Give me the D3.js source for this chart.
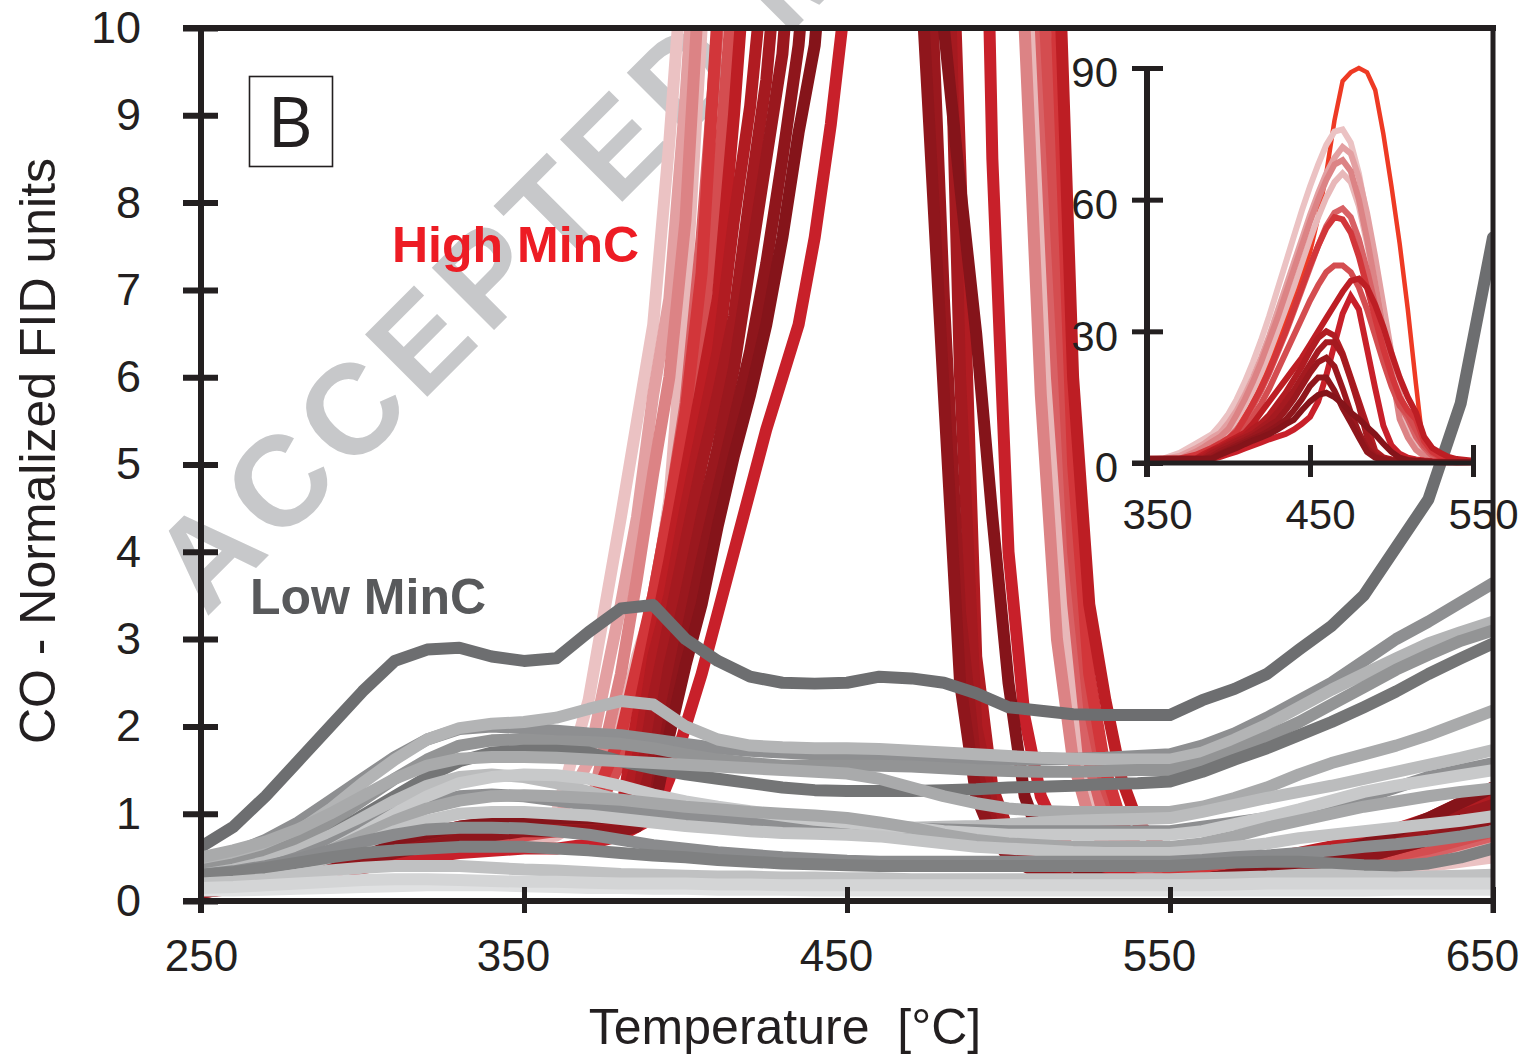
<!DOCTYPE html>
<html>
<head>
<meta charset="utf-8">
<script src="https://cdnjs.cloudflare.com/ajax/libs/d3/7.8.5/d3.min.js"></script>
<style>
  html, body { margin: 0; padding: 0; background: #fff; }
</style>
</head>
<body>
<div id="chart"></div>
<script>
// ---------------- data ----------------
// temperatures (°C) shared by the High MinC (red) traces
var redTemps = [250,270,290,310,330,350,360,370,380,385,390,395,400,405,410,415,420,425,430,435,440,445,450,455,460,465,470,475,480,485,490,495,500,505,510,515,520,525,530,535,540,550,570,590,610,630,650];

var redColors = ['#ebc2c3','#e3a0a2','#e8b8b9','#dc8385','#d86165','#d44d50','#d2363a','#c8202a','#bd1e24','#b11c22','#a51a20','#9a181e','#8f161c','#85141a'];

var redValues = [
  [0.1,0.2,0.35,0.5,0.65,0.75,1.0,2.3,4.4,5.5,6.6,8.7,11.2,14.5,18.5,23,28,33.5,39.5,45.5,51.5,57.5,63,68,72.5,75.5,76,73,66,56,45,33,22,14,7.9,3.9,2.0,1.1,0.65,0.4,0.3,0.2,0.2,0.25,0.3,0.4,0.5],
  [0.12,0.22,0.4,0.55,0.7,0.8,0.9,1.6,3.4,4.4,5.8,6.9,9.2,12,15.5,19.5,24,29,34.5,40,45.5,51,56.5,61.5,66,69.5,72,70.5,65,57,47,36,25,16,10,5.2,2.6,1.4,0.8,0.5,0.35,0.25,0.25,0.3,0.4,0.5,0.65],
  [0.1,0.18,0.3,0.45,0.6,0.7,0.75,0.95,2.0,2.8,3.4,4.6,6.9,10,13,16.5,20.5,25,30,35,40,45.5,51,56,60.5,64,66,64,58.5,50,41,31,22,14.5,8.5,4.6,2.3,1.3,0.75,0.45,0.3,0.2,0.2,0.25,0.35,0.45,0.6],
  [0.15,0.28,0.45,0.6,0.75,0.85,0.9,0.95,2.6,3.7,4.9,6.0,7.8,11,14.5,18.5,23,28,33,38.5,44,49.5,55,60,64.5,68,69,66.5,60,51,41,30.5,21,10,5.8,3.0,1.6,0.95,0.6,0.4,0.3,0.25,0.3,0.35,0.45,0.6,0.8],
  [0.12,0.25,0.4,0.55,0.7,0.8,0.85,0.9,1.7,2.6,3.5,4.5,5.7,7.6,10,13,16.5,20.5,25,29.5,34.5,39.5,44.5,49.5,54,57,58,56,51,44,36,28,20,13.5,10,6.0,3.4,1.6,0.9,0.55,0.35,0.25,0.25,0.3,0.4,0.55,0.75],
  [0.1,0.2,0.35,0.5,0.65,0.75,0.8,0.85,1.6,2.0,3.0,3.9,4.9,6.4,8.2,10.6,13.5,17,21,25,29,33,37,40.5,43.5,45,45,43.5,40,35,29,23,17.5,13,11,7.5,4.0,2.2,1.3,0.8,0.5,0.3,0.3,0.35,0.45,0.6,0.8],
  [0.15,0.3,0.5,0.65,0.8,0.9,0.95,1.0,1.9,2.7,3.5,4.5,5.6,7.2,10.2,13.5,17,21,25.5,30,35,40,45,49.5,53.5,56,55.5,52.5,47,40,33,26,20,15,12,10,5.0,2.6,1.5,0.9,0.6,0.35,0.4,0.5,0.65,0.85,1.1],
  [0.1,0.18,0.3,0.45,0.55,0.6,0.6,0.65,0.75,0.85,0.95,1.4,2.0,2.6,3.3,4.0,4.7,5.4,6.0,6.6,7.6,8.9,10.5,14,20,27,34,38,35,26,17,8.5,4.0,2.1,1.2,0.8,0.55,0.4,0.35,0.3,0.25,0.2,0.25,0.35,0.5,0.7,1.0],
  [0.12,0.22,0.4,0.6,0.8,0.9,0.9,0.9,1.0,2.1,3.0,3.9,4.9,5.9,6.9,9.0,11.5,14,16.5,19,21.5,24,27,30,33,36,39,41.5,42,40,36,31,25,19.5,15,11.5,6.0,3.4,2.3,1.4,0.9,0.5,0.45,0.55,0.7,0.95,1.3],
  [0.15,0.3,0.5,0.7,0.85,0.95,0.95,0.95,0.95,1.6,2.8,3.5,4.5,5.4,6.3,7.8,9.1,11,13.5,16,19,22,25.5,28.5,30,29,25,19.5,14,8.5,2.8,1.3,0.8,0.55,0.4,0.3,0.25,0.2,0.2,0.2,0.2,0.2,0.3,0.45,0.65,0.9,1.2],
  [0.1,0.2,0.4,0.6,0.75,0.85,0.85,0.85,0.9,1.1,2.3,3.2,4.1,5.0,5.8,6.7,8.1,9.4,11.5,14,16.5,19.5,22.5,25.5,27.5,27.5,24.5,19,13,6.0,2.0,1.1,0.7,0.5,0.35,0.3,0.25,0.2,0.2,0.18,0.18,0.18,0.25,0.4,0.55,0.75,1.0],
  [0.12,0.25,0.45,0.65,0.8,0.9,0.9,0.9,0.9,0.95,1.6,2.7,3.5,4.4,5.2,6.1,7.3,8.5,9.7,12,14.5,17.5,20.5,23,24,22,17,11.5,6.9,3.3,1.5,0.9,0.6,0.45,0.35,0.3,0.25,0.2,0.2,0.2,0.2,0.2,0.3,0.45,0.6,0.85,1.1],
  [0.1,0.2,0.35,0.55,0.7,0.8,0.8,0.8,0.8,0.85,1.1,2.1,3.0,3.9,4.7,5.5,6.3,7.3,8.5,9.8,12,14.5,17.5,19.5,19.5,16.5,12.5,9.2,5.8,2.5,1.2,0.75,0.5,0.4,0.3,0.25,0.2,0.2,0.18,0.18,0.18,0.2,0.25,0.35,0.5,0.7,0.95],
  [0.15,0.3,0.5,0.7,0.85,0.95,0.95,0.95,0.95,0.95,1.0,1.9,2.7,3.4,4.3,5.1,5.8,6.6,7.6,8.8,9.8,12,14,15.5,16,15,13.5,11.5,10,8.2,6.5,4.4,2.5,1.2,0.7,0.5,0.4,0.3,0.25,0.2,0.2,0.2,0.3,0.45,0.65,0.95,1.3]
];

// the tallest trace, visible only in the inset
var orangeColor = '#ee3a24';
var orangeValues = [0,0,0,0,0,0.05,0.1,0.3,1,1.5,2.5,4,6,8.5,11.5,15,19,23,28,33,38,43,48,56,66,78,87,89,90,89,85,75,63,50,35,18,2,0.5,0.2,0.1,0,0,0,0,0,0,0];

// temperatures (°C) shared by the Low MinC (grey) traces
var greyTemps = [250,260,270,280,290,300,310,320,330,340,350,360,370,380,390,400,410,420,430,440,450,460,470,480,490,500,510,520,530,540,550,560,570,580,590,600,610,620,630,640,650];

var greyColors = ['#6d6e70','#8e8f91','#b3b4b5','#939495','#747576','#a9aaab','#bbbcbd','#8e8f91','#c8c9ca','#a6a7a8','#c3c4c5','#8a8b8d','#7f8081','#c0c1c2','#e0e1e2','#d4d5d6'];

var greyValues = [
  [0.62,0.85,1.2,1.6,2.0,2.4,2.75,2.88,2.9,2.8,2.75,2.78,3.08,3.35,3.39,3.0,2.75,2.57,2.5,2.49,2.5,2.57,2.55,2.5,2.38,2.22,2.18,2.14,2.13,2.13,2.13,2.3,2.43,2.6,2.88,3.15,3.5,4.05,4.6,5.7,7.6],
  [0.45,0.55,0.7,0.9,1.15,1.4,1.65,1.85,1.97,2.0,1.98,1.95,1.92,1.9,1.85,1.8,1.75,1.72,1.7,1.68,1.66,1.65,1.64,1.63,1.62,1.62,1.62,1.63,1.64,1.66,1.68,1.78,1.92,2.1,2.3,2.5,2.75,3.0,3.2,3.42,3.64],
  [0.4,0.5,0.62,0.8,1.05,1.35,1.62,1.85,1.98,2.03,2.05,2.1,2.2,2.29,2.25,2.0,1.85,1.78,1.76,1.75,1.75,1.74,1.72,1.7,1.68,1.66,1.64,1.63,1.62,1.62,1.62,1.7,1.85,2.02,2.22,2.42,2.6,2.78,2.95,3.08,3.2],
  [0.35,0.42,0.52,0.68,0.9,1.15,1.4,1.62,1.78,1.84,1.85,1.83,1.82,1.8,1.75,1.68,1.62,1.58,1.55,1.55,1.55,1.55,1.54,1.52,1.5,1.49,1.48,1.48,1.49,1.5,1.5,1.58,1.72,1.88,2.05,2.25,2.45,2.65,2.82,2.98,3.1],
  [0.3,0.35,0.42,0.55,0.75,0.98,1.2,1.42,1.6,1.7,1.72,1.72,1.7,1.6,1.52,1.45,1.4,1.35,1.3,1.27,1.26,1.26,1.26,1.27,1.28,1.3,1.31,1.32,1.34,1.35,1.37,1.48,1.62,1.75,1.9,2.05,2.22,2.4,2.6,2.78,2.95],
  [0.5,0.58,0.68,0.82,1.0,1.2,1.4,1.55,1.63,1.65,1.65,1.64,1.62,1.6,1.58,1.56,1.54,1.52,1.5,1.48,1.46,1.4,1.3,1.2,1.12,1.06,1.03,1.02,1.02,1.02,1.02,1.08,1.18,1.3,1.45,1.58,1.68,1.78,1.9,2.04,2.18],
  [0.3,0.36,0.45,0.58,0.75,0.95,1.15,1.32,1.42,1.45,1.42,1.35,1.25,1.15,1.08,1.02,0.98,0.94,0.9,0.87,0.85,0.84,0.84,0.85,0.86,0.88,0.9,0.92,0.93,0.94,0.95,1.02,1.1,1.18,1.25,1.32,1.4,1.48,1.56,1.64,1.73],
  [0.25,0.3,0.38,0.5,0.65,0.82,1.0,1.12,1.2,1.22,1.2,1.15,1.1,1.05,1.0,0.96,0.92,0.9,0.88,0.86,0.85,0.84,0.83,0.82,0.81,0.8,0.8,0.8,0.8,0.8,0.8,0.85,0.9,0.95,1.0,1.08,1.18,1.3,1.42,1.5,1.58],
  [0.2,0.25,0.32,0.42,0.58,0.78,1.0,1.2,1.35,1.42,1.45,1.44,1.4,1.32,1.22,1.14,1.08,1.03,0.98,0.93,0.9,0.86,0.84,0.8,0.78,0.76,0.76,0.76,0.76,0.76,0.76,0.8,0.88,0.96,1.05,1.15,1.25,1.32,1.38,1.44,1.5],
  [0.25,0.3,0.36,0.45,0.58,0.75,0.92,1.06,1.15,1.2,1.21,1.2,1.18,1.16,1.12,1.08,1.05,1.02,1.0,0.98,0.95,0.9,0.84,0.76,0.7,0.66,0.64,0.62,0.62,0.62,0.62,0.66,0.74,0.84,0.92,1.0,1.08,1.14,1.2,1.25,1.29],
  [0.2,0.24,0.3,0.38,0.5,0.65,0.8,0.92,1.0,1.02,1.02,1.0,0.98,0.94,0.9,0.86,0.83,0.8,0.78,0.77,0.76,0.74,0.7,0.66,0.62,0.6,0.58,0.56,0.55,0.55,0.55,0.58,0.62,0.66,0.72,0.76,0.8,0.84,0.88,0.92,0.97],
  [0.3,0.34,0.4,0.48,0.58,0.68,0.76,0.82,0.84,0.84,0.83,0.8,0.76,0.7,0.64,0.6,0.56,0.53,0.5,0.48,0.46,0.45,0.45,0.45,0.45,0.45,0.45,0.45,0.45,0.45,0.45,0.47,0.5,0.52,0.55,0.58,0.62,0.65,0.69,0.74,0.8],
  [0.3,0.33,0.38,0.44,0.5,0.55,0.58,0.6,0.62,0.62,0.62,0.6,0.58,0.55,0.52,0.5,0.47,0.45,0.43,0.42,0.41,0.4,0.4,0.4,0.4,0.4,0.4,0.4,0.4,0.4,0.4,0.42,0.44,0.45,0.45,0.43,0.41,0.4,0.43,0.5,0.6],
  [0.2,0.22,0.25,0.3,0.35,0.38,0.4,0.4,0.4,0.38,0.36,0.35,0.33,0.31,0.3,0.29,0.28,0.28,0.27,0.27,0.26,0.26,0.25,0.25,0.25,0.25,0.25,0.25,0.25,0.25,0.25,0.26,0.27,0.28,0.3,0.3,0.28,0.27,0.28,0.29,0.3],
  [0.12,0.12,0.13,0.14,0.15,0.16,0.17,0.18,0.18,0.18,0.17,0.16,0.15,0.15,0.14,0.14,0.13,0.13,0.13,0.12,0.12,0.12,0.12,0.12,0.12,0.12,0.12,0.12,0.12,0.12,0.12,0.12,0.12,0.12,0.12,0.12,0.12,0.13,0.13,0.13,0.13],
  [0.15,0.16,0.18,0.2,0.22,0.24,0.25,0.25,0.24,0.23,0.22,0.22,0.21,0.2,0.2,0.2,0.19,0.19,0.18,0.18,0.18,0.18,0.18,0.18,0.18,0.18,0.18,0.18,0.18,0.18,0.18,0.18,0.19,0.2,0.2,0.2,0.2,0.2,0.2,0.2,0.2]
];

// tick labels
var xTicks = [250, 350, 450, 550, 650];
var yTicks = [0, 1, 2, 3, 4, 5, 6, 7, 8, 9, 10];
var insetXTicks = [350, 450, 550];
var insetYTicks = [0, 30, 60, 90];

function renderThermogramChart(params) {

  // Exposed variables
  var attrs = {
    id: "ID" + Math.floor(Math.random() * 1000000),
    svgWidth: 1522,
    svgHeight: 1055,
    plotLeft: 201,
    plotRight: 1493,
    plotTop: 28,
    plotBottom: 901,
    container: 'body',
    defaultTextFill: '#231f20',
    defaultFont: '"Liberation Sans", Arial, Helvetica, sans-serif',
    mainStroke: 12,
    insetStroke: 6
  };

  var main = function (selection) {
    selection.each(function scope() {

      var scales = {
        x: d3.scaleLinear().domain([250, 650]).range([attrs.plotLeft, attrs.plotRight]),
        y: d3.scaleLinear().domain([0, 10]).range([attrs.plotBottom, attrs.plotTop]),
        xi: d3.scaleLinear().domain([350, 550]).range([1147, 1473]),
        yi: d3.scaleLinear().domain([0, 90]).range([463, 68])
      };

      var redData = redValues.map(function (vals, i) {
        return { id: 'red' + i, color: redColors[i], points: vals.map(function (v, j) { return [redTemps[j], v]; }) };
      });
      var orangeData = { id: 'orange', color: orangeColor, points: orangeValues.map(function (v, j) { return [redTemps[j], v]; }) };
      var greyData = greyValues.map(function (vals, i) {
        return { id: 'grey' + i, color: greyColors[i], points: vals.map(function (v, j) { return [greyTemps[j], v]; }) };
      });

      //Drawing containers
      var container = d3.select(this);
      container.html('');

      var svg = container.patternify({ tag: 'svg', selector: 'svg-chart-container' })
        .attr('width', attrs.svgWidth)
        .attr('height', attrs.svgHeight)
        .attr('font-family', attrs.defaultFont)
        .style('display', 'block');

      svg.append('defs').append('clipPath').attr('id', 'plot-clip')
        .append('rect')
        .attr('x', attrs.plotLeft)
        .attr('y', attrs.plotTop)
        .attr('width', attrs.plotRight - attrs.plotLeft)
        .attr('height', attrs.plotBottom - attrs.plotTop + 4);

      // watermark behind everything
      svg.patternify({ tag: 'text', selector: 'watermark' })
        .attr('transform', 'translate(206,618) rotate(-45)')
        .attr('font-size', 128)
        .attr('font-weight', 'bold')
        .attr('letter-spacing', 9)
        .attr('fill', '#c7c8ca')
        .text('ACCEPTED MANUSCRIPT');

      // ---------- main traces ----------
      var lineMain = d3.line()
        .x(function (d) { return scales.x(d[0]); })
        .y(function (d) { return scales.y(d[1]); });

      var traces = svg.patternify({ tag: 'g', selector: 'traces' })
        .attr('clip-path', 'url(#plot-clip)');

      traces.patternify({ tag: 'path', selector: 'red-trace', data: redData })
        .attr('d', function (d) { return lineMain(d.points); })
        .attr('fill', 'none')
        .attr('stroke', function (d) { return d.color; })
        .attr('stroke-width', attrs.mainStroke)
        .attr('stroke-linejoin', 'round');

      traces.patternify({ tag: 'path', selector: 'grey-trace', data: greyData })
        .attr('d', function (d) { return lineMain(d.points); })
        .attr('fill', 'none')
        .attr('stroke', function (d) { return d.color; })
        .attr('stroke-width', attrs.mainStroke)
        .attr('stroke-linejoin', 'round')
        .attr('stroke-linecap', 'round');

      // ---------- main axes ----------
      var yAxis = svg.patternify({ tag: 'g', selector: 'y-axis' })
        .attr('transform', 'translate(' + attrs.plotLeft + ',0)')
        .call(d3.axisLeft(scales.y).tickValues(yTicks).tickSize(18).tickPadding(42));
      yAxis.select('.domain').remove();
      yAxis.selectAll('.tick line').attr('x1', 17).attr('stroke', '#231f20').attr('stroke-width', 6);
      yAxis.selectAll('.tick text').attr('font-size', 45).attr('fill', attrs.defaultTextFill).attr('font-family', attrs.defaultFont);

      var xAxis = svg.patternify({ tag: 'g', selector: 'x-axis' })
        .attr('transform', 'translate(0,' + attrs.plotBottom + ')')
        .call(d3.axisBottom(scales.x).tickValues(xTicks).tickSize(12).tickPadding(27));
      xAxis.select('.domain').remove();
      xAxis.selectAll('.tick line').attr('y1', -14).attr('stroke', '#231f20').attr('stroke-width', 5);
      xAxis.selectAll('.tick text')
        .attr('font-size', 44)
        .attr('dx', function (d) { return d === 250 ? 0 : -11; })
        .attr('fill', attrs.defaultTextFill).attr('font-family', attrs.defaultFont);

      // frame
      var frame = svg.patternify({ tag: 'g', selector: 'frame' })
        .attr('stroke', '#231f20').attr('fill', 'none');
      frame.append('line')
        .attr('x1', attrs.plotLeft - 18).attr('x2', attrs.plotRight + 3)
        .attr('y1', attrs.plotTop).attr('y2', attrs.plotTop).attr('stroke-width', 6);
      frame.append('line')
        .attr('x1', attrs.plotLeft - 18).attr('x2', attrs.plotRight + 3)
        .attr('y1', attrs.plotBottom).attr('y2', attrs.plotBottom).attr('stroke-width', 6);
      frame.append('line')
        .attr('x1', attrs.plotLeft).attr('x2', attrs.plotLeft)
        .attr('y1', attrs.plotTop - 3).attr('y2', attrs.plotBottom + 12).attr('stroke-width', 6);
      frame.append('line')
        .attr('x1', attrs.plotRight).attr('x2', attrs.plotRight)
        .attr('y1', attrs.plotTop - 3).attr('y2', attrs.plotBottom + 12).attr('stroke-width', 5);

      // axis titles
      svg.patternify({ tag: 'text', selector: 'y-title' })
        .attr('transform', 'translate(55,451) rotate(-90)')
        .attr('text-anchor', 'middle')
        .attr('font-size', 50)
        .attr('fill', attrs.defaultTextFill)
        .text('CO - Normalized FID units');

      svg.patternify({ tag: 'text', selector: 'x-title' })
        .attr('x', 785).attr('y', 1044)
        .attr('text-anchor', 'middle')
        .attr('font-size', 50)
        .attr('fill', attrs.defaultTextFill)
        .style('white-space', 'pre')
        .text('Temperature  [°C]');

      // panel letter
      svg.patternify({ tag: 'rect', selector: 'panel-box' })
        .attr('x', 249.5).attr('y', 76.5).attr('width', 83).attr('height', 90)
        .attr('fill', 'none').attr('stroke', '#231f20').attr('stroke-width', 1.6);
      svg.patternify({ tag: 'text', selector: 'panel-letter' })
        .attr('x', 290).attr('y', 147)
        .attr('text-anchor', 'middle')
        .attr('font-family', '"Open Sans", sans-serif')
        .attr('font-size', 70)
        .attr('fill', attrs.defaultTextFill)
        .text('B');

      // group labels
      svg.patternify({ tag: 'text', selector: 'label-high' })
        .attr('x', 392).attr('y', 262)
        .attr('font-size', 50).attr('font-weight', 'bold')
        .attr('fill', '#ed1c24')
        .text('High MinC');
      svg.patternify({ tag: 'text', selector: 'label-low' })
        .attr('x', 250).attr('y', 614)
        .attr('font-size', 50).attr('font-weight', 'bold')
        .attr('fill', '#58595b')
        .text('Low MinC');

      // ---------- inset ----------
      var lineInset = d3.line()
        .x(function (d) { return scales.xi(d[0]); })
        .y(function (d) { return scales.yi(d[1]); });
      var inRange = function (d) { return d.points.filter(function (p) { return p[0] >= 350 && p[0] <= 550; }); };

      var inset = svg.patternify({ tag: 'g', selector: 'inset' });

      inset.patternify({ tag: 'path', selector: 'inset-orange', data: [orangeData] })
        .attr('d', function (d) { return lineInset(inRange(d)); })
        .attr('fill', 'none')
        .attr('stroke', function (d) { return d.color; })
        .attr('stroke-width', 4.5);

      inset.patternify({ tag: 'path', selector: 'inset-trace', data: redData })
        .attr('d', function (d) { return lineInset(inRange(d)); })
        .attr('fill', 'none')
        .attr('stroke', function (d) { return d.color; })
        .attr('stroke-width', attrs.insetStroke);

      var yAxisI = inset.patternify({ tag: 'g', selector: 'inset-y-axis' })
        .attr('transform', 'translate(' + scales.xi(350) + ',0)')
        .call(d3.axisLeft(scales.yi).tickValues(insetYTicks).tickSize(15).tickPadding(14));
      yAxisI.select('.domain').remove();
      yAxisI.selectAll('.tick line').attr('x1', 16).attr('stroke', '#231f20').attr('stroke-width', 5);
      yAxisI.selectAll('.tick text').attr('font-size', 42).attr('dy', '0.45em').attr('fill', attrs.defaultTextFill).attr('font-family', attrs.defaultFont);

      var xAxisI = inset.patternify({ tag: 'g', selector: 'inset-x-axis' })
        .attr('transform', 'translate(0,' + scales.yi(0) + ')')
        .call(d3.axisBottom(scales.xi).tickValues(insetXTicks).tickSize(14).tickPadding(22));
      xAxisI.select('.domain').remove();
      xAxisI.selectAll('.tick line').attr('y1', -18).attr('stroke', '#231f20').attr('stroke-width', 5);
      xAxisI.selectAll('.tick text').attr('font-size', 42).attr('dx', 10).attr('fill', attrs.defaultTextFill).attr('font-family', attrs.defaultFont);

      inset.append('line')
        .attr('x1', scales.xi(350)).attr('x2', scales.xi(350))
        .attr('y1', scales.yi(90) - 2).attr('y2', scales.yi(0) + 14)
        .attr('stroke', '#231f20').attr('stroke-width', 6);
      inset.append('line')
        .attr('x1', scales.xi(350) - 15).attr('x2', scales.xi(550) + 2)
        .attr('y1', scales.yi(0)).attr('y2', scales.yi(0))
        .attr('stroke', '#231f20').attr('stroke-width', 5);
    });
  };

  //----------- PROTOTYPE FUNCTIONS  ----------------------
  d3.selection.prototype.patternify = function (params) {
    var container = this;
    var selector = params.selector;
    var elementTag = params.tag;
    var data = params.data || [selector];

    var selection = container.selectAll('.' + selector).data(data, function (d, i) {
      if (typeof d === "object") {
        if (d.id) {
          return d.id;
        }
      }
      return i;
    });
    selection.exit().remove();
    selection = selection.enter().append(elementTag).merge(selection);
    selection.attr('class', selector);
    return selection;
  };

  Object.keys(attrs).forEach(function (key) {
    main[key] = function (_) {
      if (!arguments.length) { return attrs[key]; }
      attrs[key] = _;
      return main;
    };
  });

  main.run = function () {
    d3.selectAll(attrs.container).call(main);
    return main;
  };

  return main;
}

renderThermogramChart().container('#chart').run();
</script>
</body>
</html>
